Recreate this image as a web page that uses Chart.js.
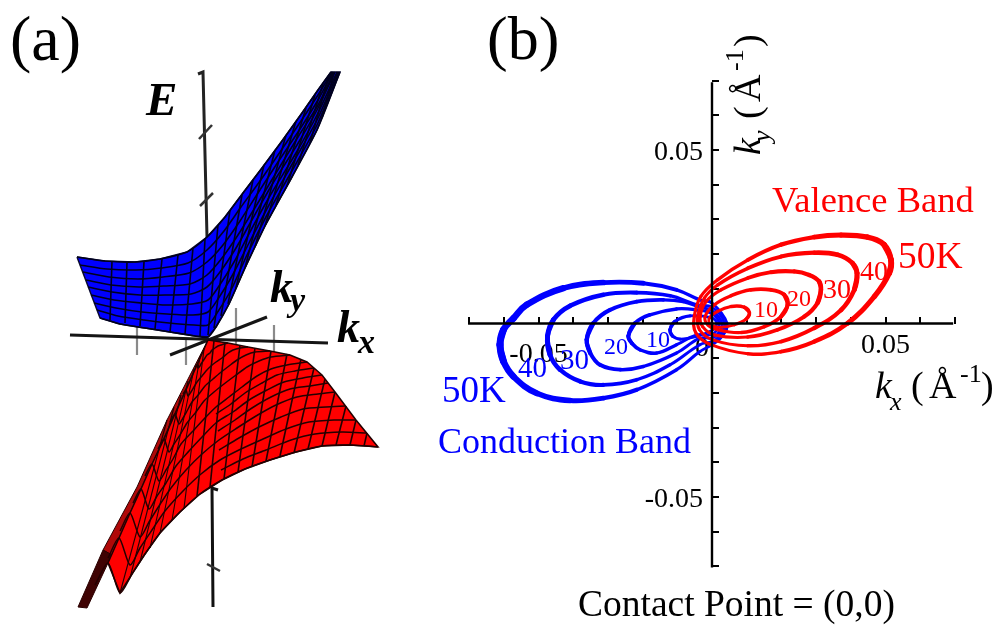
<!DOCTYPE html>
<html><head><meta charset="utf-8">
<style>html,body{margin:0;padding:0;background:#fff}canvas{display:block}</style>
<script src="https://cdn.jsdelivr.net/npm/chart.js@4"></script>
</head><body><canvas id="c" width="1000" height="631"></canvas>
<script>
// ---- Panel (b): constant-energy contours, [kx, ky] in inverse angstrom ----
const red10=[[.0108,.0030],[.0093,.0047],[.0055,.0049],[.0016,.0035],[-.0008,.0015],[-.0003,-.0004],[.0026,-.0011],[.0064,-.0004],[.0098,.0012]];
const red20=[[.0218,.0054],[.0208,.0083],[.0170,.0097],[.0112,.0097],[.0055,.0080],[.0007,.0054],[-.0020,.0020],[-.0012,-.0004],[.0016,-.0018],[.0084,-.0026],[.0151,-.0009],[.0199,.0020]];
const red30=[[.0314,.0097],[.0309,.0121],[.0280,.0140],[.0237,.0150],[.0170,.0148],[.0103,.0131],[.0026,.0097],[-.0017,.0063],[-.0034,.0020],[-.0027,-.0009],[.0007,-.0033],[.0103,-.0039],[.0189,-.0018],[.0266,.0020],[.0304,.0059]];
const red40=[[.0418,.0145],[.0405,.0174],[.0362,.0198],[.0295,.0204],[.0199,.0193],[.0103,.0159],[.0016,.0111],[-.0022,.0073],[-.0041,.0020],[-.0036,-.0018],[.0002,-.0047],[.0103,-.0064],[.0199,-.0052],[.0295,-.0013],[.0372,.0039],[.0410,.0097]];
const red50=[[.0516,.0183],[.0496,.0227],[.0448,.0249],[.0372,.0255],[.0295,.0249],[.0199,.0227],[.0103,.0183],[.0016,.0126],[-.0032,.0078],[-.0051,.0020],[-.0046,-.0028],[-.0003,-.0061],[.0103,-.0087],[.0199,-.0081],[.0295,-.0052],[.0391,.0001],[.0468,.0078],[.0511,.0145]];
const blue10=[[-.0121,-.0018],[-.0107,.0006],[-.0063,.0022],[0,.0016],[.0014,.0001],[.0008,-.0012],[0,-.0020],[-.0044,-.0037],[-.0092,-.0045],[-.0114,-.0036]];
const blue20=[[-.0241,-.0036],[-.0222,.0001],[-.0179,.0025],[-.0102,.0042],[-.0044,.0039],[0,.0028],[.0021,.0001],[.0014,-.0019],[0,-.0032],[-.0044,-.0033],[-.0102,-.0061],[-.0159,-.0085],[-.0207,-.0076],[-.0231,-.0057]];
const blue30=[[-.0361,-.0047],[-.0342,.0001],[-.0294,.0039],[-.0217,.0063],[-.0140,.0068],[-.0083,.0063],[-.0035,.0047],[0,.0037],[.0029,.0001],[.0020,-.0026],[0,-.0042],[-.0035,-.0042],[-.0102,-.0085],[-.0198,-.0124],[-.0265,-.0133],[-.0323,-.0119],[-.0351,-.0085]];
const blue40=[[-.0474,-.0037],[-.0457,.0011],[-.0409,.0051],[-.0313,.0083],[-.0217,.0089],[-.0121,.0080],[-.0044,.0054],[0,.0047],[.0036,.0001],[.0024,-.0033],[0,-.0052],[-.0035,-.0061],[-.0121,-.0119],[-.0217,-.0162],[-.0313,-.0177],[-.0380,-.0167],[-.0438,-.0133],[-.0467,-.0090]];
const blue50=[[-.0611,-.0061],[-.0601,-.0018],[-.0572,.0015],[-.0534,.0054],[-.0428,.0102],[-.0313,.0118],[-.0198,.0116],[-.0102,.0097],[-.0035,.0068],[0,.0059],[.0043,.0001],[.0029,-.0037],[0,-.0061],[-.0035,-.0081],[-.0102,-.0133],[-.0217,-.0191],[-.0313,-.0215],[-.0409,-.0222],[-.0505,-.0201],[-.0572,-.0153],[-.0601,-.0109]];
const kAxisEnds=[-.0703,.0695];
const kTickValues=[-.07,-.06,-.05,-.04,-.03,-.02,-.01,.01,.02,.03,.04,.05,.06,.07];
const kTickLabelled=[-.05,.05];

// ---- Panel (a): projected mesh nodes of the two band surfaces ----
// conduction band: one row per long mesh line, left to top
const blueX=[
[77,105,135,160,187,207,225,243,262,282,302,318,331],
[80,107,136,161,188,207,224,241,260,280,301,318,332],
[83,109,138,163,189,207,223,240,258,278,300,318,333],
[86,111,139,164,190,207,222,238,256,276,298,318,334],
[88,112,140,165,191,207,220,236,253,273,297,317,335],
[91,114,141,166,192,208,219,234,251,271,296,317,337],
[94,116,142,167,193,208,218,232,249,269,294,317,338],
[97,118,144,169,194,208,217,231,247,267,293,317,339],
[100,120,145,170,195,208,216,229,245,265,292,317,340]];
const blueY=[
[257,261,262,259,252,237,217,193,168,141,113,90,72],
[265,269,270,268,263,250,231,207,181,152,121,95,72],
[272,277,279,277,273,262,245,221,193,162,129,100,72],
[280,285,287,286,284,275,258,235,206,173,137,105,72],
[287,292,295,295,294,287,272,248,218,183,145,110,72],
[295,300,303,305,304,300,286,262,230,194,153,115,72],
[303,308,312,314,315,312,299,276,243,205,161,120,72],
[310,316,320,323,325,325,313,290,255,215,169,125,72],
[318,324,328,332,336,337,327,304,268,226,177,130,72]];
// conduction band: short cross lines [bottom x, bottom y, top x, top y]
const blueCross=[[110,320,112,261],[125,323,127,262],[140,326,144,262],[155,329,162,259],[170,332,178,255],[185,334,193,248],[200,336,205,239],[208,335,218,225],[214,328,230,210],[221,316,242,195],[228,304,253,180],[236,288,264,165],[245,268,275,150],[255,247,286,135],[265,226,296,121],[276,205,306,108],[287,186,315,95],[298,165,323,84],[310,143,329,75],[322,118,334,73]];
// valence band: arcs nested round the apex; each column is one arc
const redApex=[208,340];
const redX=[
[228,248,270,290,307,322,335,356,378],
[224,240,255,271,287,303,318,334,350],
[221,233,246,259,271,284,297,309,322],
[218,228,237,247,257,267,276,286,296],
[215,222,229,236,242,249,256,263,270],
[212,216,220,224,229,233,237,241,245],
[210,211,213,214,216,217,219,220,222],
[207,206,205,204,204,203,202,201,200],
[205,202,199,196,192,189,186,183,180],
[203,197,192,187,181,176,171,165,160],
[201,194,187,180,173,166,159,152,145],
[200,191,183,174,166,157,149,140,132],
[198,188,179,169,159,149,140,130,120],
[197,186,175,164,152,141,130,119,108],
[195,183,170,158,145,133,120,108,95]];
const redY=[
[343,347,351,355,362,375,392,420,447],
[344,348,352,357,365,378,394,420,445],
[345,350,355,361,369,382,397,422,446],
[346,353,360,367,376,390,405,429,452],
[348,358,366,375,387,400,416,439,460],
[350,362,373,384,397,412,428,449,469],
[353,366,379,392,407,422,440,460,480],
[355,371,386,401,419,436,454,474,494],
[358,376,394,412,432,451,470,491,512],
[361,382,402,423,444,466,488,511,533],
[364,387,411,435,459,483,506,530,554],
[366,392,418,444,470,496,522,548,574],
[368,396,424,452,481,509,537,565,593],
[365,390,414,439,464,489,513,538,563],
[367,394,422,449,476,503,531,558,585]];
// valence band: further arcs on the right-hand part, right end first
const redArcA=[[367,433],[342,432],[315,434],[291,440],[266,450],[243,459],[221,470]];
const redArcB=[[345,406],[326,407],[303,409],[281,417],[259,427],[239,438],[219,450]];
const redArcC=[[328,383],[310,386],[290,389],[271,397],[252,408],[235,420],[218,431]];
const redArcD=[[314,368],[295,371],[277,375],[262,383],[245,393],[231,404],[216,414]];
// valence band: cross lines [edge x, edge y, front x, front y]
const redCross=[[367,433,364,446],[356,420,350,445],[346,406,336,445],[335,392,322,446],[325,379,308,449],[314,368,294,453],[301,359,280,456],[287,354,266,461],[271,351,252,467],[255,348,238,472],[240,345,224,479],[225,342,210,487],[214,341,197,496],[204,349,184,508],[200,357,172,520],[194,369,160,533],[188,381,150,548],[181,395,140,562],[174,407,130,578],[167,420,120,593]];
const redStripX=[208,167,137,103,112,127];
const redStripY=[340,420,487,550,555,520];
const redTailX=[103,78,87,108,112];
const redTailY=[550,607,608,563,555];
// axes of the 3-D sketch
const eAxisUpperX=[198,203,207], eAxisUpperY=[74,72,237];
const eAxisLowerX=[218,212,213], eAxisLowerY=[490,488,607];
const kxAxis3dX=[70,328], kxAxis3dY=[335,343];
const kyAxis3dX=[170,267], kyAxis3dY=[355,317];
const eTicks3d=[[[199,139],[212,125]],[[200,206],[213,193]],[[207,564],[220,571]]];
const kTicks3d=[[[137,327],[137,355]],[[186,340],[186,365]],[[236,308],[236,345]],[[274,325],[274,352]]];

// ---- Text ----
const serif='"Liberation Serif","Times New Roman",serif';
const texts=[
 {t:'(a)',x:10,y:60,f:'64px '+serif,c:'#000'},
 {t:'(b)',x:487,y:59,f:'62px '+serif,c:'#000'},
 {t:'E',x:146,y:115,f:'italic bold 47px '+serif,c:'#000'},
 {t:'k',x:270,y:302,f:'italic bold 46px '+serif,c:'#000'},
 {t:'y',x:290,y:311,f:'italic bold 34px '+serif,c:'#000'},
 {t:'k',x:337,y:342,f:'italic bold 46px '+serif,c:'#000'},
 {t:'x',x:358,y:353,f:'italic bold 34px '+serif,c:'#000'},
 {t:'Valence Band',x:772,y:212,f:'36.5px '+serif,c:'#ff0000'},
 {t:'50K',x:898,y:268,f:'37.5px '+serif,c:'#ff0000'},
 {t:'40',x:860,y:280,f:'28px '+serif,c:'#ff0000'},
 {t:'30',x:823,y:298,f:'28px '+serif,c:'#ff0000'},
 {t:'20',x:787,y:306,f:'24px '+serif,c:'#ff0000'},
 {t:'10',x:754,y:317,f:'24px '+serif,c:'#ff0000'},
 {t:'10',x:646,y:347,f:'24px '+serif,c:'#0000ff'},
 {t:'20',x:604,y:354,f:'24px '+serif,c:'#0000ff'},
 {t:'30',x:560,y:369,f:'29px '+serif,c:'#0000ff'},
 {t:'40',x:518,y:377,f:'29px '+serif,c:'#0000ff'},
 {t:'50K',x:442,y:402,f:'37px '+serif,c:'#0000ff'},
 {t:'Conduction Band',x:438,y:453,f:'36px '+serif,c:'#0000ff'},
 {t:'Contact Point = (0,0)',x:578,y:616,f:'37.5px '+serif,c:'#000'},
 {t:'k',x:875,y:398,f:'italic 38px '+serif,c:'#000'},
 {t:'x',x:890,y:410,f:'italic 26px '+serif,c:'#000'},
 {t:'(',x:911,y:398,f:'38px '+serif,c:'#000'},
 {t:'Å',x:929,y:398,f:'38px '+serif,c:'#000'},
 {t:'-1',x:960,y:382,f:'26px '+serif,c:'#000'},
 {t:')',x:981,y:398,f:'38px '+serif,c:'#000'},
 {t:'k',x:760,y:155,r:1,f:'italic 38px '+serif,c:'#000'},
 {t:'y',x:770,y:142,r:1,f:'italic 26px '+serif,c:'#000'},
 {t:'(',x:760,y:119,r:1,f:'38px '+serif,c:'#000'},
 {t:'Å',x:760,y:102,r:1,f:'38px '+serif,c:'#000'},
 {t:'-1',x:743,y:71,r:1,f:'26px '+serif,c:'#000'},
 {t:')',x:760,y:47,r:1,f:'38px '+serif,c:'#000'}
];

// ---- Build datasets in painter's order ----
const painted=[];
function pts(xs,ys){return xs.map((x,i)=>({x,y:ys[i]}));}
function addA(data,color,width,extra){painted.push(Object.assign({data,borderColor:color,borderWidth:width,xAxisID:'xa',yAxisID:'ya',showLine:true,pointRadius:0,tension:0,fill:false},extra||{}));}
function addB(data,color,width,tension,extra){painted.push(Object.assign({data,borderColor:color,borderWidth:width,xAxisID:'xb',yAxisID:'yb',showLine:true,pointRadius:0,tension,fill:false},extra||{}));}
function polygon(data,color,outline,w){addA(data,outline,w||1.5,{fill:'shape',backgroundColor:color});}
function seg(q){return [{x:q[0],y:q[1]},{x:q[2],y:q[3]}];}
function pairs(a){return a.map(p=>({x:p[0],y:p[1]}));}
function closed(xs,ys){const o=pts(xs,ys);o.push(o[0]);return o;}

// 3-D sketch axes
kTicks3d.forEach(s=>addA(pairs(s),'#8a8a8a',2.2));
addA(pts(kxAxis3dX,kxAxis3dY),'#151515',3);
addA(pts(kyAxis3dX,kyAxis3dY),'#151515',3);
addA(pts(eAxisUpperX,eAxisUpperY),'#222',3);
addA(pts(eAxisLowerX,eAxisLowerY),'#111',3);
eTicks3d.forEach(s=>addA(pairs(s),'#333',2.5));

// conduction band surface
const blueLast=blueX.length-1;
const blueOutline=pts(blueX[0],blueY[0]).concat(pts(blueX[blueLast],blueY[blueLast]).reverse());
blueOutline.push(blueOutline[0]);
polygon(blueOutline,'#0000ff','#0a0a30');
blueX.forEach((xs,r)=>addA(pts(xs,blueY[r]),'#00001e',1.6,{tension:.25}));
blueCross.forEach(q=>addA(seg(q),'#00001e',1.6));

// valence band surface
polygon(closed(redStripX,redStripY),'#b00808','#2a0000',1);
polygon(closed(redTailX,redTailY),'#3f0303','#2a0000',1);
const apexPt={x:redApex[0],y:redApex[1]};
const edge0=[apexPt].concat(pts(redX[0],redY[0]));
const front=redX.slice(1,14).map((xs,i)=>({x:xs[8],y:redY[i+1][8]}));
const back=pts(redX[13],redY[13]).reverse();
polygon(edge0.concat(front,back,[apexPt]),'#ff0000','#200000');
redX[0].forEach((_,j)=>addA(redX.map((xs,i)=>({x:xs[j],y:redY[i][j]})),'#240000',1.5,{tension:.25}));
[redArcA,redArcB,redArcC,redArcD].forEach(a=>addA(pairs(a),'#240000',1.5,{tension:.25}));
redCross.forEach((q,i)=>addA(seg(q),'#240000',i<13?1.6:1.1));

// contour loops: the two end segments repeat so the curve stays smooth at the join
function loop(a){const n=a.length;return pairs([a[n-1]].concat(a,[a[0],a[1]]));}
function bySize(base,gain,reach){return {borderCapStyle:'round',borderJoinStyle:'round',segment:{borderWidth:c=>base+gain*Math.min(1,Math.abs(c.p0.parsed.x)/reach)}};}
[[blue10,2.6,.6,.012],[blue20,2.8,1,.024],[blue30,2.8,1.4,.036],[blue40,2.8,2,.047],[blue50,2.8,4,.061]].forEach(b=>addB(loop(b[0]),'#0000ff',b[1],.4,bySize(b[1],b[2],b[3])));
[[red10,2.8,.6,.011],[red20,3,1,.022],[red30,3,1.4,.031],[red40,3,1.8,.042],[red50,3,2.6,.052]].forEach(b=>addB(loop(b[0]),'#ff0000',b[1],.4,bySize(b[1],b[2],b[3])));
addB(kAxisEnds.map(v=>({x:v,y:0})),'#000',2.4,0);
addB(kAxisEnds.map(v=>({x:0,y:v})),'#000',2.4,0);
painted.forEach((d,i)=>{d.order=painted.length-i;});

function drawText(ctx,it){
  ctx.save();ctx.font=it.f;ctx.fillStyle=it.c;ctx.textAlign='left';ctx.textBaseline='alphabetic';
  ctx.translate(it.x,it.y);if(it.r)ctx.rotate(-Math.PI/2);ctx.fillText(it.t,0,0);ctx.restore();
}
const textPlugin={id:'texts',
  beforeDatasetsDraw(chart){
    const ctx=chart.ctx,sx=chart.scales.xb,sy=chart.scales.yb;
    ctx.save();ctx.font='28px '+serif;ctx.fillStyle='#000';ctx.textAlign='center';ctx.textBaseline='alphabetic';
    ctx.fillText('-0.05',sx.getPixelForValue(kTickLabelled[0]),362);
    ctx.fillText('0.05',sx.getPixelForValue(kTickLabelled[1]),353);
    ctx.fillText('0',702,356);
    ctx.textAlign='right';
    kTickLabelled.forEach(v=>ctx.fillText(String(v),703,sy.getPixelForValue(v)+10));
    ctx.restore();
  },
  afterDatasetsDraw(chart){texts.forEach(t=>drawText(chart.ctx,t));}
};
function setTicks(s){s.ticks=kTickValues.map(v=>({value:v}));}
function noSpace(s){s.paddingTop=0;s.paddingBottom=0;s.paddingLeft=0;s.paddingRight=0;if(s.axis==='x')s.height=0;else s.width=0;}
const tickGrid={display:true,drawOnChartArea:false,drawTicks:true,tickLength:-7,color:'#000',lineWidth:2};
const noLabels={autoSkip:false,maxRotation:0,callback:()=>''};
new Chart(document.getElementById('c'),{
  type:'scatter',
  data:{datasets:painted},
  plugins:[textPlugin],
  options:{
    responsive:false,animation:false,events:[],
    layout:{padding:0,autoPadding:false},
    plugins:{legend:{display:false},tooltip:{enabled:false},title:{display:false}},
    scales:{
      xa:{axis:'x',type:'linear',display:false,min:0,max:1000},
      ya:{axis:'y',type:'linear',display:false,min:0,max:631,reverse:true},
      xb:{axis:'x',type:'linear',min:-712/3470,max:288/3470,position:{yb:0},afterBuildTicks:setTicks,afterFit:noSpace,
          grid:tickGrid,border:{display:false},ticks:noLabels},
      yb:{axis:'y',type:'linear',min:-307.5/3470,max:323.5/3470,position:{xb:0},afterBuildTicks:setTicks,afterFit:noSpace,
          grid:tickGrid,border:{display:false},ticks:noLabels}
    }
  }
});
</script></body></html>
